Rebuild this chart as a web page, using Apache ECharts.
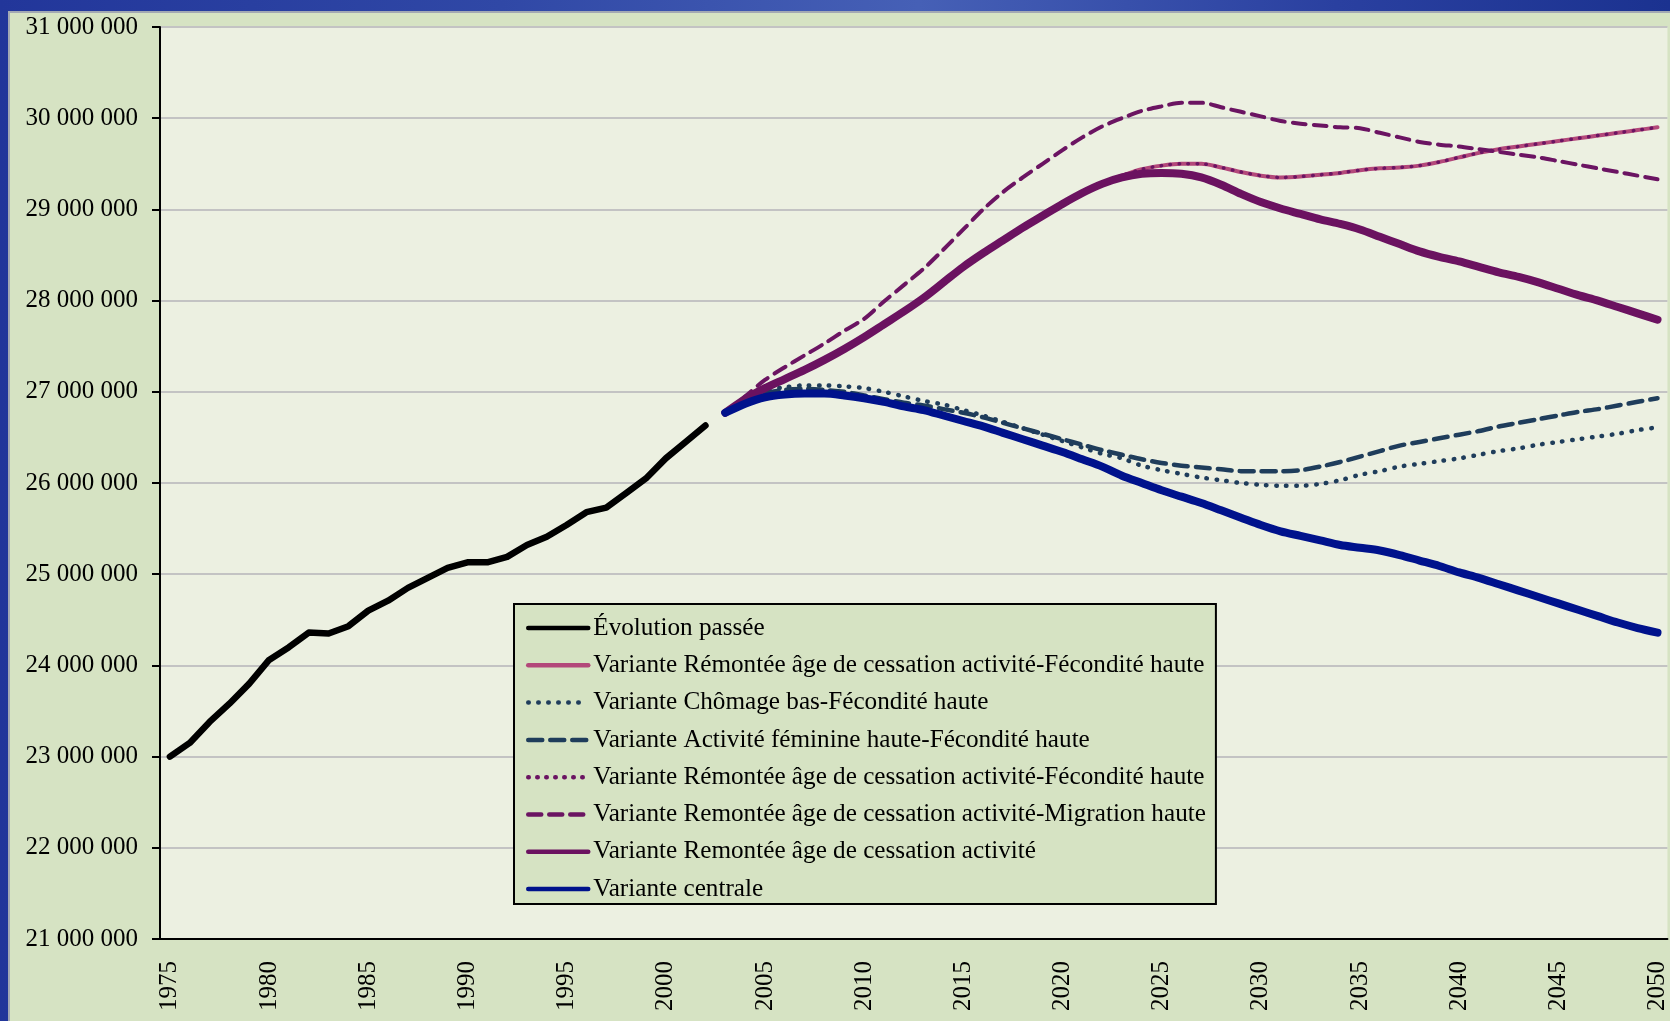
<!DOCTYPE html>
<html>
<head>
<meta charset="utf-8">
<script src="https://cdn.jsdelivr.net/npm/echarts@6/dist/echarts.min.js"></script>
<style>
  html, body { margin: 0; padding: 0; }
  body {
    width: 1670px; height: 1021px; overflow: hidden; position: relative;
    background: linear-gradient(90deg, #22369a 0%, #3048a6 30%, #4660b6 55%, #2a40a0 80%, #1b3290 100%);
  }
  .panel {
    position: absolute; left: 8px; top: 11px; right: 0; bottom: 0;
    background: #d6e3c3;
    border-left: 2px solid #a3a9b3; border-top: 2px solid #a3a9b3;
  }
  .chart { position: absolute; left: 0; top: 0; width: 1670px; height: 1021px; }
</style>
</head>
<body>
<div class="panel"></div>
<div class="chart" id="chart"></div>
<script>
// années (axe des x)
const years = [
  '1975', '1976', '1977', '1978', '1979', '1980', '1981', '1982', '1983', '1984',
  '1985', '1986', '1987', '1988', '1989', '1990', '1991', '1992', '1993', '1994',
  '1995', '1996', '1997', '1998', '1999', '2000', '2001', '2002', '2003', '2004',
  '2005', '2006', '2007', '2008', '2009', '2010', '2011', '2012', '2013', '2014',
  '2015', '2016', '2017', '2018', '2019', '2020', '2021', '2022', '2023', '2024',
  '2025', '2026', '2027', '2028', '2029', '2030', '2031', '2032', '2033', '2034',
  '2035', '2036', '2037', '2038', '2039', '2040', '2041', '2042', '2043', '2044',
  '2045', '2046', '2047', '2048', '2049', '2050'
]

// valeurs en millions
// 1975 - 2002
const evolutionPassee = [
  23.00, 23.15, 23.38, 23.58, 23.80, 24.06, 24.20, 24.36, 24.35, 24.43,
  24.60, 24.71, 24.85, 24.96, 25.07, 25.13, 25.13, 25.19, 25.32, 25.41,
  25.54, 25.68, 25.73, 25.89, 26.05, 26.27, 26.45, 26.63
]

// 2003 - 2050
const remonteeFecondite = [
  26.77, 26.92, 27.04, 27.14, 27.24, 27.35, 27.47, 27.60, 27.74, 27.88,
  28.03, 28.20, 28.37, 28.52, 28.66, 28.80, 28.93, 29.06, 29.18, 29.29,
  29.37, 29.44, 29.48, 29.50, 29.50, 29.46, 29.41, 29.37, 29.35, 29.36,
  29.38, 29.40, 29.43, 29.45, 29.46, 29.48, 29.52, 29.57, 29.62, 29.66,
  29.69, 29.72, 29.75, 29.78, 29.81, 29.84, 29.87, 29.90
]
const chomageBas = [
  26.77, 26.92, 27.01, 27.05, 27.07, 27.07, 27.06, 27.04, 27.00, 26.95,
  26.90, 26.86, 26.80, 26.74, 26.67, 26.60, 26.53, 26.46, 26.39, 26.32,
  26.27, 26.19, 26.14, 26.10, 26.06, 26.03, 26.00, 25.98, 25.97, 25.97,
  25.99, 26.03, 26.09, 26.13, 26.18, 26.21, 26.24, 26.27, 26.31, 26.35,
  26.38, 26.42, 26.45, 26.48, 26.51, 26.54, 26.58, 26.61
]
const activiteFeminine = [
  26.77, 26.90, 26.98, 27.02, 27.03, 27.02, 27.00, 26.96, 26.92, 26.88,
  26.85, 26.81, 26.77, 26.72, 26.66, 26.60, 26.54, 26.48, 26.42, 26.36,
  26.31, 26.26, 26.22, 26.19, 26.17, 26.15, 26.13, 26.13, 26.13, 26.14,
  26.18, 26.23, 26.29, 26.35, 26.41, 26.45, 26.49, 26.53, 26.57, 26.62,
  26.66, 26.70, 26.74, 26.78, 26.81, 26.85, 26.89, 26.93
]
const remonteeFecondite2 = [
  26.77, 26.92, 27.04, 27.14, 27.24, 27.35, 27.47, 27.60, 27.74, 27.88,
  28.03, 28.20, 28.37, 28.52, 28.66, 28.80, 28.93, 29.06, 29.18, 29.29,
  29.37, 29.44, 29.48, 29.50, 29.50, 29.46, 29.41, 29.37, 29.35, 29.36,
  29.38, 29.40, 29.43, 29.45, 29.46, 29.48, 29.52, 29.57, 29.62, 29.66,
  29.69, 29.72, 29.75, 29.78, 29.81, 29.84, 29.87, 29.90
]
const remonteeMigration = [
  26.77, 26.95, 27.13, 27.27, 27.40, 27.53, 27.67, 27.80, 27.99, 28.17,
  28.35, 28.56, 28.78, 29.00, 29.19, 29.35, 29.50, 29.65, 29.79, 29.91,
  30.00, 30.08, 30.13, 30.17, 30.17, 30.12, 30.07, 30.02, 29.97, 29.94,
  29.92, 29.90, 29.89, 29.84, 29.79, 29.74, 29.71, 29.69, 29.66, 29.63,
  29.60, 29.57, 29.53, 29.49, 29.45, 29.41, 29.37, 29.33
]
const remontee = [
  26.77, 26.92, 27.04, 27.14, 27.24, 27.35, 27.47, 27.60, 27.74, 27.88,
  28.03, 28.20, 28.37, 28.52, 28.66, 28.80, 28.93, 29.06, 29.18, 29.28,
  29.35, 29.39, 29.40, 29.39, 29.35, 29.27, 29.17, 29.08, 29.01, 28.95,
  28.89, 28.84, 28.78, 28.70, 28.62, 28.54, 28.48, 28.43, 28.37, 28.31,
  28.26, 28.20, 28.13, 28.06, 28.00, 27.93, 27.86, 27.79
]
const centrale = [
  26.77, 26.87, 26.94, 26.97, 26.98, 26.98, 26.96, 26.93, 26.89, 26.84,
  26.80, 26.74, 26.68, 26.62, 26.55, 26.48, 26.41, 26.34, 26.26, 26.18,
  26.08, 26.00, 25.92, 25.85, 25.78, 25.70, 25.62, 25.54, 25.47, 25.42,
  25.37, 25.32, 25.29, 25.26, 25.21, 25.15, 25.09, 25.02, 24.96, 24.89,
  24.82, 24.75, 24.68, 24.61, 24.54, 24.47, 24.41, 24.36
]

const font = 'Liberation Serif'
const past = (arr) => arr.concat(new Array(years.length - arr.length).fill(null))
const future = (arr) => new Array(years.length - arr.length).fill(null).concat(arr)
const fmt = (v) => String(Math.round(v * 1000000)).replace(/\B(?=(\d{3})+(?!\d))/g, ' ')

function line (name, data, color, width, type, smooth) {
  return {
    name: name,
    type: 'line',
    data: data,
    symbol: 'none',
    smooth: smooth,
    silent: true,
    lineStyle: { color: color, width: width, type: type, cap: 'round', join: 'round' },
    itemStyle: { color: color }
  }
}

const chart = echarts.init(document.getElementById('chart'))
chart.setOption({
  animation: false,
  backgroundColor: 'transparent',
  grid: {
    left: 160, right: 0, top: 27, bottom: 82,
    show: true, backgroundColor: '#ecf0e1', borderWidth: 0
  },
  legend: {
    orient: 'vertical',
    left: 514, top: 604,
    padding: [11, 10, 2, 12],
    backgroundColor: '#d6e3c3',
    borderColor: '#000', borderWidth: 2,
    itemWidth: 60, itemHeight: 14, itemGap: 11.3,
    textStyle: { fontFamily: font, fontSize: 25.2, color: '#000', lineHeight: 26 },
    itemStyle: { opacity: 0 },
    lineStyle: { width: 4.5 }
  },
  xAxis: {
    type: 'category',
    data: years,
    boundaryGap: true,
    axisLine: { lineStyle: { color: '#000', width: 2 } },
    axisTick: { interval: 0, length: 6, lineStyle: { color: '#000', width: 2 } },
    axisLabel: {
      interval: 4, rotate: 90, margin: 22,
      fontFamily: font, fontSize: 25, color: '#000'
    },
    splitLine: { show: false }
  },
  yAxis: {
    type: 'value',
    min: 21, max: 31, interval: 1,
    axisLine: { show: true, lineStyle: { color: '#000', width: 2 } },
    axisTick: { show: true, length: 8, lineStyle: { color: '#000', width: 2 } },
    axisLabel: {
      margin: 22, fontFamily: font, fontSize: 25, color: '#000',
      formatter: fmt
    },
    splitLine: { lineStyle: { color: '#c3c3c3', width: 2 } }
  },
  series: [
    line('Évolution passée', past(evolutionPassee), '#000000', 6.5, 'solid', false),
    line('Variante Rémontée âge de cessation activité-Fécondité haute', future(remonteeFecondite), '#b3487a', 4, 'solid', 0.3),
    line('Variante Chômage bas-Fécondité haute', future(chomageBas), '#1f3d5b', 4.5, [0.5, 9.5], 0.3),
    line('Variante Activité féminine haute-Fécondité haute', future(activiteFeminine), '#1f3d5b', 4.5, [14, 8], 0.3),
    line('Variante Rémontée âge de cessation activité-Fécondité haute\u200b', future(remonteeFecondite2), '#6b1462', 3.5, [0.5, 8.5], 0.3),
    line('Variante Remontée âge de cessation activité-Migration haute', future(remonteeMigration), '#6b1462', 4, [13, 8], 0.3),
    line('Variante Remontée âge de cessation activité', future(remontee), '#6b1260', 8, 'solid', 0.3),
    line('Variante centrale', future(centrale), '#00128c', 8, 'solid', 0.3)
  ]
})
window.addEventListener('resize', function () { chart.resize() })
</script>
</body>
</html>
